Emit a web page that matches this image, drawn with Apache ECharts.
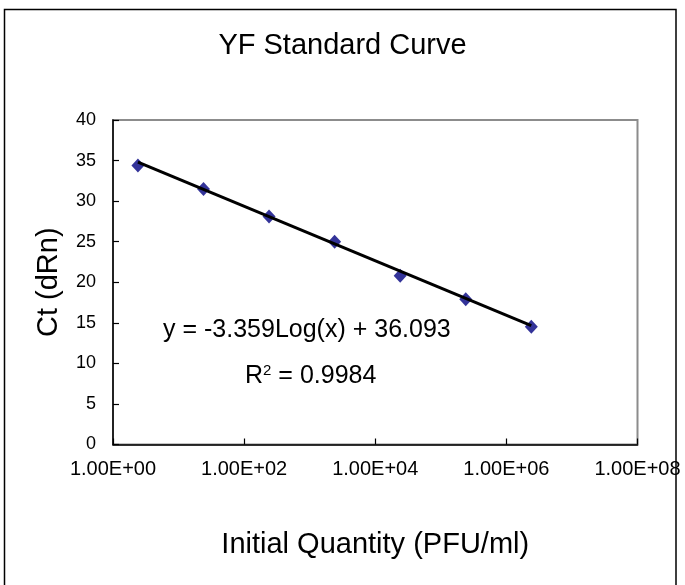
<!DOCTYPE html>
<html>
<head>
<meta charset="utf-8">
<script src="https://cdn.jsdelivr.net/npm/echarts@6/dist/echarts.min.js"></script>
<style>
  html, body { margin: 0; padding: 0; background: #fff; }
  #chart { width: 685px; height: 585px; }
</style>
</head>
<body>
<div id="chart"></div>
<script>
// Standard dilution series: initial quantity (PFU/ml) vs. threshold cycle
const quantities = [2.4, 24, 240, 2400, 24000, 240000, 2400000];
const ctValues = [34.4, 31.5, 28.1, 25.0, 20.8, 17.9, 14.5];

// Logarithmic trendline coefficients (y = slope * log10(x) + intercept)
const slope = -3.359;
const intercept = 36.093;
const rSquared = '0.9984';

const xTickValues = [1, 1e2, 1e4, 1e6, 1e8];
const yTicks = [0, 5, 10, 15, 20, 25, 30, 35, 40];

const FONT = '"Liberation Sans", Arial, sans-serif';

const points = quantities.map((q, i) => [q, ctValues[i]]);
const xFirst = quantities[0];
const xLast = quantities[quantities.length - 1];
const trend = [xFirst, xLast].map(x => [x, slope * Math.log10(x) + intercept]);

function sci(v) {
  const e = Math.round(Math.log10(v));
  const m = (v / Math.pow(10, e)).toFixed(2);
  const sign = e < 0 ? '-' : '+';
  const ae = Math.abs(e);
  return m + 'E' + sign + (ae < 10 ? '0' + ae : '' + ae);
}

const chart = echarts.init(document.getElementById('chart'), null, { renderer: 'canvas' });

chart.setOption({
  animation: false,
  backgroundColor: '#ffffff',
  title: {
    text: 'YF Standard Curve',
    left: 'center',
    top: 26,
    textStyle: { fontFamily: FONT, fontSize: 29, fontWeight: 'normal', color: '#000' }
  },
  grid: { left: 113, right: 47.5, top: 120, bottom: 140.5, show: true, borderColor: '#8c8c8c', borderWidth: 2 },
  xAxis: {
    type: 'log',
    logBase: 100,
    min: xTickValues[0],
    max: xTickValues[xTickValues.length - 1],
    name: 'Initial Quantity (PFU/ml)',
    nameLocation: 'middle',
    nameGap: 86,
    nameTextStyle: { fontFamily: FONT, fontSize: 29, color: '#000' },
    axisLine: { show: true, lineStyle: { color: '#000', width: 1.5 } },
    axisTick: { show: true, inside: true, length: 6, lineStyle: { color: '#000', width: 1.2 } },
    minorTick: { show: false },
    splitLine: { show: false },
    axisLabel: {
      fontFamily: FONT, fontSize: 20, color: '#000', margin: 15,
      formatter: v => sci(v)
    }
  },
  yAxis: {
    type: 'value',
    min: yTicks[0],
    max: yTicks[yTicks.length - 1],
    interval: yTicks[1] - yTicks[0],
    name: 'Ct (dRn)',
    nameLocation: 'middle',
    nameGap: 50,
    nameTextStyle: { fontFamily: FONT, fontSize: 29, color: '#000' },
    axisLine: { show: true, lineStyle: { color: '#000', width: 1.5 } },
    axisTick: { show: true, inside: true, length: 6, lineStyle: { color: '#000', width: 1.2 } },
    splitLine: { show: false },
    axisLabel: { fontFamily: FONT, fontSize: 18, color: '#000', margin: 17 }
  },
  series: [
    {
      name: 'Standards',
      type: 'scatter',
      data: points,
      symbol: 'diamond',
      symbolSize: [13, 14],
      itemStyle: { color: '#000080' },
      z: 2
    },
    {
      name: 'Log trendline',
      type: 'line',
      data: trend,
      showSymbol: false,
      symbol: 'none',
      lineStyle: { color: '#000', width: 3 },
      z: 3
    }
  ],
  graphic: [
    {
      type: 'rect',
      shape: { x: 4.5, y: 9.5, width: 671.5, height: 640 },
      style: { fill: 'none', stroke: '#000', lineWidth: 1.5 },
      silent: true
    },
    {
      type: 'text',
      left: 163,
      top: 318,
      style: {
        text: 'y = ' + slope.toFixed(3) + 'Log(x) + ' + intercept.toFixed(3),
        font: '25px ' + FONT,
        fill: '#000'
      }
    },
    {
      type: 'text',
      left: 245,
      top: 363,
      style: {
        text: '{r|R}{s|2}{r| = ' + rSquared + '}',
        rich: {
          r: { fontFamily: FONT, fontSize: 25, color: '#000', verticalAlign: 'bottom' },
          s: { fontFamily: FONT, fontSize: 15, color: '#000', verticalAlign: 'top', padding: [0, 0, 11, 0] }
        }
      }
    }
  ]
});
</script>
</body>
</html>
